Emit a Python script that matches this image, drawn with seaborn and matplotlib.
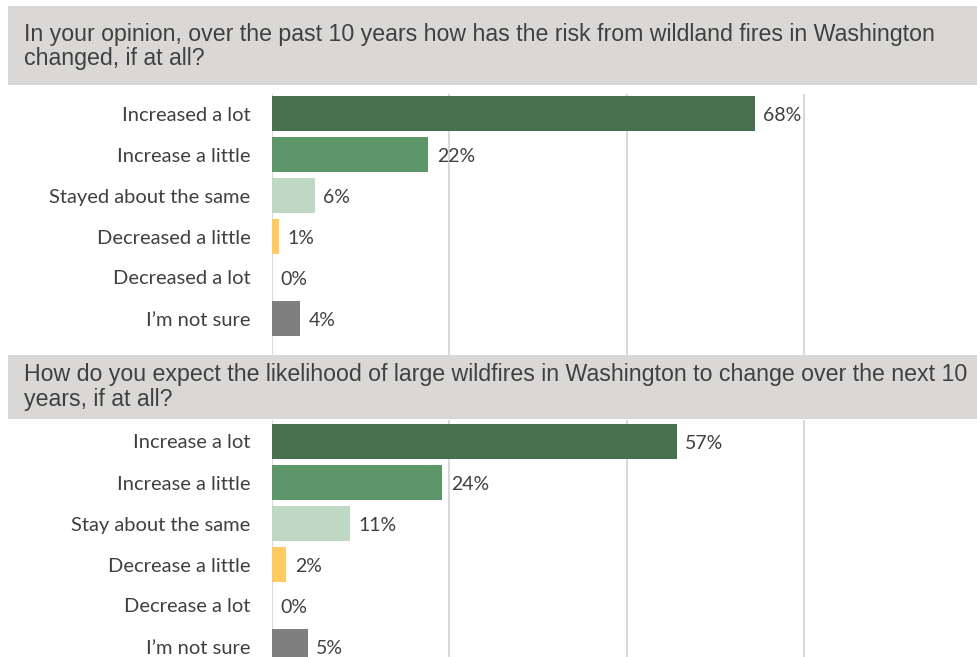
import matplotlib
matplotlib.use("Agg")
import matplotlib.pyplot as plt
import seaborn as sns
import pandas as pd
from matplotlib.patches import Rectangle

# Survey responses
q1_title = ["In your opinion, over the past 10 years how has the risk from wildland fires in Washington",
            "changed, if at all?"]
q1_labels = ["Increased a lot", "Increase a little", "Stayed about the same",
             "Decreased a little", "Decreased a lot", "I\u2019m not sure"]
q1_values = [68, 22, 6, 1, 0, 4]

q2_title = ["How do you expect the likelihood of large wildfires in Washington to change over the next 10",
            "years, if at all?"]
q2_labels = ["Increase a lot", "Increase a little", "Stay about the same",
             "Decrease a little", "Decrease a lot", "I\u2019m not sure"]
q2_values = [57, 24, 11, 2, 0, 5]

bar_colors = ["#47704F", "#5D9669", "#BFD8C4", "#FFCA62", "#FFCA62", "#7F7F7F"]
gridlines = [0, 25, 50, 75]

W, H = 978, 657
sns.set_theme(style="white")
plt.rcParams["font.family"] = ["Lato", "DejaVu Sans"]

fig = plt.figure(figsize=(W / 100, H / 100), dpi=100)
fig.patch.set_facecolor("white")

TXT = "#404040"
PX_PER_PCT = 7.1
AX_LEFT = 272


def fx(x):
    return x / W


def fy(y):
    return 1 - y / H


def title_box(y0, y1, lines, baselines):
    fig.patches.append(Rectangle((fx(8), fy(y1)), fx(W - 8), (y1 - y0) / H,
                                 transform=fig.transFigure, facecolor="#D9D8D6",
                                 edgecolor="none", zorder=5))
    for line, b in zip(lines, baselines):
        fig.text(fx(24), fy(b), line, fontsize=16.7, color=TXT, va="baseline",
                 ha="left", family=["Liberation Sans", "DejaVu Sans"], zorder=6)


def panel(top, bottom, first_center, labels, values):
    step = 41.0
    ax = fig.add_axes([fx(AX_LEFT), fy(bottom), fx(W - AX_LEFT), (bottom - top) / H])
    df = pd.DataFrame({"response": labels, "pct": values})
    sns.barplot(data=df, y="response", x="pct", hue="response", palette=bar_colors,
                orient="h", width=35 / step, legend=False, ax=ax, saturation=1,
                linewidth=0)
    ax.set_xlim(0, (W - AX_LEFT) / PX_PER_PCT)
    ax.set_ylim((bottom - first_center) / step, (top - first_center) / step)
    ax.set_xticks(gridlines)
    ax.set_xticklabels([])
    ax.set_axisbelow(True)
    ax.grid(axis="x", color="#D9D9D9", linewidth=1.5)
    ax.grid(axis="y", visible=False)
    ax.tick_params(axis="both", length=0)
    ax.tick_params(axis="y", pad=15.5, labelsize=14.5, labelcolor=TXT)
    ax.set_xlabel("")
    ax.set_ylabel("")
    for s in ax.spines.values():
        s.set_visible(False)
    ax.patch.set_alpha(0)
    for i, v in enumerate(values):
        ax.annotate(f"{v}%", xy=(v, i), xytext=(6.2, -1.2), textcoords="offset points",
                    va="center", ha="left", fontsize=14, color=TXT)
    return ax


panel(94, 355, 113.5, q1_labels, q1_values)
panel(420, H, 441.5, q2_labels, q2_values)

title_box(6, 85, q1_title, [40.7, 65])
title_box(355, 419, q2_title, [381, 406])

fig.savefig("out.png", dpi=100)
